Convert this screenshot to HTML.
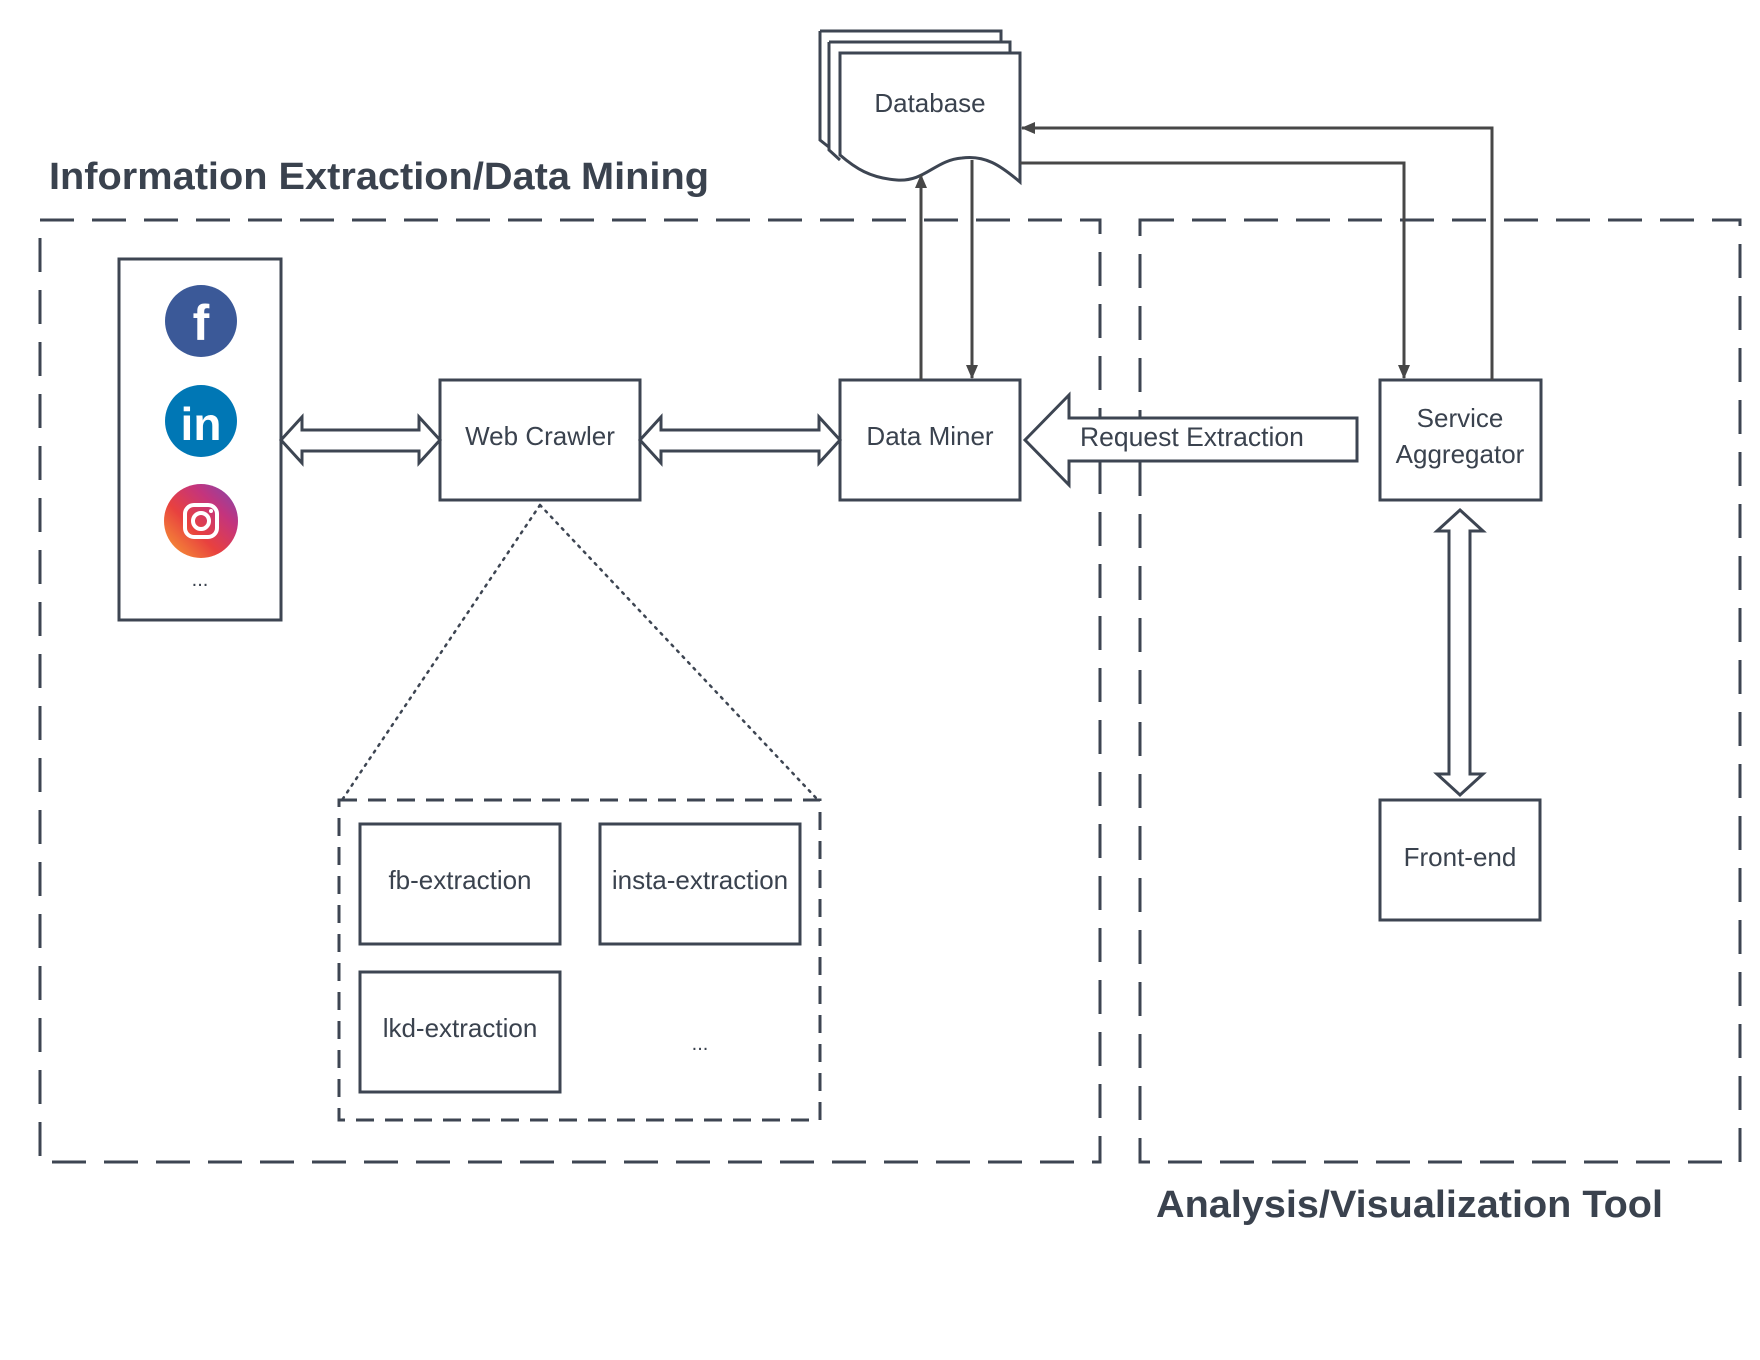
<!DOCTYPE html>
<html><head><meta charset="utf-8"><style>
html,body{margin:0;padding:0;background:#fff;}
svg{display:block;}
text{font-family:"Liberation Sans",sans-serif;fill:#3a424e;}
</style></head><body>
<svg width="1760" height="1360" viewBox="0 0 1760 1360" xmlns="http://www.w3.org/2000/svg">
<defs>
<marker id="ah" markerWidth="14" markerHeight="14" refX="13" refY="7" orient="auto" markerUnits="userSpaceOnUse">
<path d="M0,1 L14,7 L0,13 Z" fill="#474747"/></marker>
<linearGradient id="ig" x1="0" y1="1" x2="1" y2="0">
<stop offset="0" stop-color="#f9a233"/><stop offset="0.4" stop-color="#e8413f"/><stop offset="0.7" stop-color="#c4347d"/><stop offset="1" stop-color="#7b49b1"/></linearGradient>
</defs>
<g fill="none" stroke="#3d4552" stroke-width="3">
<rect x="40" y="220" width="1060" height="942" stroke-dasharray="34 18"/>
<rect x="1140" y="220" width="600" height="942" stroke-dasharray="34 18"/>
<rect x="339" y="800" width="481" height="320" stroke-dasharray="18 11"/>
<rect x="119" y="259" width="162" height="361" fill="#fff"/>
<rect x="440" y="380" width="200" height="120" fill="#fff"/>
<rect x="840" y="380" width="180" height="120" fill="#fff"/>
<rect x="1380" y="380" width="161" height="120" fill="#fff"/>
<rect x="1380" y="800" width="160" height="120" fill="#fff"/>
<rect x="360" y="824" width="200" height="120" fill="#fff"/>
<rect x="600" y="824" width="200" height="120" fill="#fff"/>
<rect x="360" y="972" width="200" height="120" fill="#fff"/>
<path d="M540,505 L342,800 M540,505 L818,800" stroke-width="2.5" stroke-dasharray="2 6" stroke-linecap="round"/>
<path d="M820,31 H1001 V45 M820,31 V140 L830,148" fill="#fff"/>
<path d="M829,42 H1010 V55 M829,42 V150 L840,160" fill="#fff"/>
<path d="M840,53 H1020 V182 C1000,165 985,155 962,158 C935,160 925,182 897,180 C870,178 855,168 840,155 Z" fill="#fff"/>
<path d="M281,440 L302,417 V430 H419 V417 L440,440 L419,463 V451 H302 V463 Z" fill="#fff"/>
<path d="M640,440 L661,417 V430 H819 V417 L840,440 L819,463 V451 H661 V463 Z" fill="#fff"/>
<path d="M1460,510 L1483,531 H1470 V774 H1483 L1460,795 L1437,774 H1449 V531 H1437 Z" fill="#fff"/>
<path d="M1025,440 L1069,395 V418 H1357 V461 H1069 V485 Z" fill="#fff"/>
</g>
<g fill="none" stroke="#474747" stroke-width="3">
<path d="M921,380 V175" marker-end="url(#ah)"/>
<path d="M972,160 V378" marker-end="url(#ah)"/>
<path d="M1492,380 V128 H1022" marker-end="url(#ah)"/>
<path d="M1020,163 H1404 V378" marker-end="url(#ah)"/>
</g>
<circle cx="201" cy="321" r="36" fill="#3b5998"/>
<text x="201" y="340" text-anchor="middle" font-size="50" font-weight="bold" style="fill:#fff">f</text>
<circle cx="201" cy="421" r="36" fill="#0077b5"/>
<text x="201" y="440" text-anchor="middle" font-size="46" font-weight="bold" style="fill:#fff">in</text>
<circle cx="201" cy="521" r="37" fill="url(#ig)"/>
<rect x="185" y="505" width="32" height="32" rx="9" fill="none" stroke="#fff" stroke-width="4"/>
<circle cx="201" cy="521" r="8" fill="none" stroke="#fff" stroke-width="4"/>
<circle cx="211" cy="511" r="2" fill="#fff"/>
<text x="200" y="586" text-anchor="middle" font-size="20">...</text>
<text x="49" y="189" font-size="38" font-weight="bold" textLength="660" lengthAdjust="spacingAndGlyphs">Information Extraction/Data Mining</text>
<text x="1156" y="1217" font-size="38" font-weight="bold" textLength="507" lengthAdjust="spacingAndGlyphs">Analysis/Visualization Tool</text>
<g font-size="26" text-anchor="middle">
<text x="930" y="112">Database</text>
<text x="540" y="445">Web Crawler</text>
<text x="930" y="445">Data Miner</text>
<text x="1460" y="427">Service</text>
<text x="1460" y="463">Aggregator</text>
<text x="1460" y="866">Front-end</text>
<text x="460" y="889">fb-extraction</text>
<text x="700" y="889">insta-extraction</text>
<text x="460" y="1037">lkd-extraction</text>
<text x="700" y="1050" font-size="20">...</text>
</g>
<text x="1080" y="446" font-size="26.5">Request Extraction</text>
</svg>
</body></html>
